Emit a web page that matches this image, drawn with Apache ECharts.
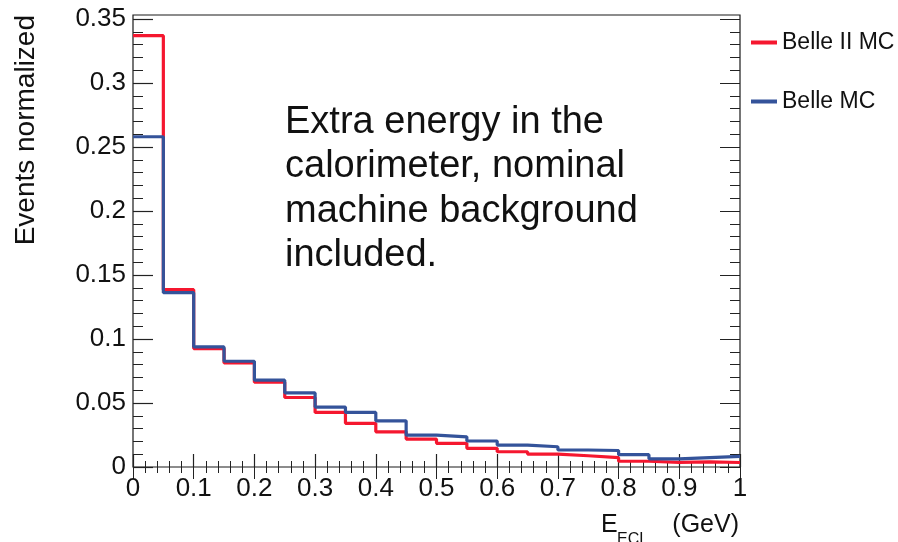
<!DOCTYPE html>
<html>
<head>
<meta charset="utf-8">
<script src="https://cdn.jsdelivr.net/npm/echarts@6/dist/echarts.min.js"></script>
<style>
html,body{margin:0;padding:0;background:#fff;}
#chart{width:898px;height:542px;}
</style>
</head>
<body>
<div id="chart"></div>
<script>
// Bin lower edges (GeV), last entry closes the final bin
var binEdges = [0, 0.05, 0.1, 0.15, 0.2, 0.25, 0.3, 0.35, 0.4, 0.45, 0.5, 0.55, 0.6, 0.65, 0.7, 0.75, 0.8, 0.85, 0.9, 0.95, 1.0];
var belle2MC = [0.337, 0.1385, 0.0925, 0.0813, 0.0663, 0.0543, 0.0426, 0.0341, 0.0275, 0.0218, 0.0185, 0.0146, 0.0119, 0.0101, 0.0088, 0.0073, 0.0045, 0.0036, 0.0040, 0.0035];
var belleMC  = [0.258, 0.1362, 0.0938, 0.0826, 0.0678, 0.0579, 0.0468, 0.0426, 0.0361, 0.0249, 0.0236, 0.0203, 0.0171, 0.0158, 0.0133, 0.0129, 0.0096, 0.0064, 0.0074, 0.0083];
var seriesNames = ['Belle II MC', 'Belle MC'];
var yTicks = [0, 0.05, 0.1, 0.15, 0.2, 0.25, 0.3, 0.35];
var xTicks = [0, 0.1, 0.2, 0.3, 0.4, 0.5, 0.6, 0.7, 0.8, 0.9, 1];

function histData(vals) {
  var d = [];
  for (var i = 0; i < vals.length; i++) d.push([binEdges[i], vals[i]]);
  d.push([binEdges[vals.length], vals[vals.length - 1]]);
  return d;
}

var FONT = '"Liberation Sans", Arial, Helvetica, sans-serif';
var TICK = '#222';
var chart = echarts.init(document.getElementById('chart'), null, {renderer: 'canvas'});
chart.setOption({
  animation: false,
  backgroundColor: '#ffffff',
  grid: [
    {left: 133, right: 158, top: 19, bottom: 75, show: false},
    {left: 133, right: 158, top: 15, bottom: 75, show: true, borderColor: '#1a1a1a', borderWidth: 1.2, backgroundColor: 'transparent'}
  ],
  legend: {
    orient: 'vertical', left: 746, top: 26, itemGap: 36, itemWidth: 26, itemHeight: 4,
    icon: 'rect',
    textStyle: {fontFamily: FONT, fontSize: 23, color: '#111'},
    data: seriesNames
  },
  xAxis: [{
    gridIndex: 0, type: 'value', min: xTicks[0], max: xTicks[xTicks.length - 1], interval: 0.1,
    axisLine: {show: false},
    axisTick: {show: true, inside: true, length: 13, lineStyle: {color: TICK, width: 1.2}},
    minorTick: {show: true, splitNumber: 5, length: 6, lineStyle: {color: TICK, width: 1}},
    splitLine: {show: false},
    axisLabel: {fontFamily: FONT, fontSize: 26, color: '#111', margin: 9, showMaxLabel: true, showMinLabel: true}
  }, {
    gridIndex: 1, type: 'value', position: 'top', min: xTicks[0], max: xTicks[xTicks.length - 1], interval: 0.1,
    axisLine: {show: false},
    axisTick: {show: true, inside: true, length: 12, lineStyle: {color: TICK, width: 1}},
    minorTick: {show: true, splitNumber: 5, length: 6, lineStyle: {color: TICK, width: 1}},
    splitLine: {show: false},
    axisLabel: {show: false}
  }],
  yAxis: [{
    gridIndex: 0, type: 'value', min: yTicks[0], max: yTicks[yTicks.length - 1], interval: 0.05,
    axisLine: {show: false},
    axisTick: {show: true, inside: true, length: 20, lineStyle: {color: TICK, width: 1.2}},
    minorTick: {show: true, splitNumber: 5, length: 10, lineStyle: {color: TICK, width: 1}},
    splitLine: {show: false},
    axisLabel: {fontFamily: FONT, fontSize: 26, color: '#111', margin: 7}
  }, {
    gridIndex: 0, type: 'value', position: 'right', min: yTicks[0], max: yTicks[yTicks.length - 1], interval: 0.05,
    axisLine: {show: false},
    axisTick: {show: true, inside: true, length: 20, lineStyle: {color: TICK, width: 1}},
    minorTick: {show: true, splitNumber: 5, length: 10, lineStyle: {color: TICK, width: 1}},
    splitLine: {show: false},
    axisLabel: {show: false}
  }, {
    gridIndex: 1, type: 'value', show: false, min: 0, max: 1
  }],
  series: [{
    name: seriesNames[0], type: 'line', step: 'end', showSymbol: false, symbol: 'none',
    xAxisIndex: 0, yAxisIndex: 0,
    data: histData(belle2MC),
    itemStyle: {color: '#f5172f'},
    lineStyle: {color: '#f5172f', width: 3.2},
    z: 2
  }, {
    name: seriesNames[1], type: 'line', step: 'end', showSymbol: false, symbol: 'none',
    xAxisIndex: 0, yAxisIndex: 0,
    data: histData(belleMC),
    itemStyle: {color: '#34539a'},
    lineStyle: {color: '#34539a', width: 3.2},
    z: 3
  }],
  graphic: [{
    type: 'text', left: 285, top: 100,
    style: {
      text: 'Extra energy in the\ncalorimeter, nominal\nmachine background\nincluded.',
      fontFamily: FONT, fontSize: 38, lineHeight: 44.5, fill: '#111'
    }
  }, {
    type: 'text', x: 26, y: 15, rotation: Math.PI / 2,
    style: {text: 'Events normalized', fontFamily: FONT, fontSize: 28, fill: '#111', align: 'right', verticalAlign: 'middle'}
  }, {
    type: 'text', x: 601, y: 525,
    style: {text: 'E', fontFamily: FONT, fontSize: 25, fill: '#111', align: 'left', verticalAlign: 'middle'}
  }, {
    type: 'text', x: 617, y: 540,
    style: {text: 'ECL', fontFamily: FONT, fontSize: 16, fill: '#111', align: 'left', verticalAlign: 'middle'}
  }, {
    type: 'text', x: 739, y: 525,
    style: {text: '(GeV)', fontFamily: FONT, fontSize: 25, fill: '#111', align: 'right', verticalAlign: 'middle'}
  }]
});
</script>
</body>
</html>
